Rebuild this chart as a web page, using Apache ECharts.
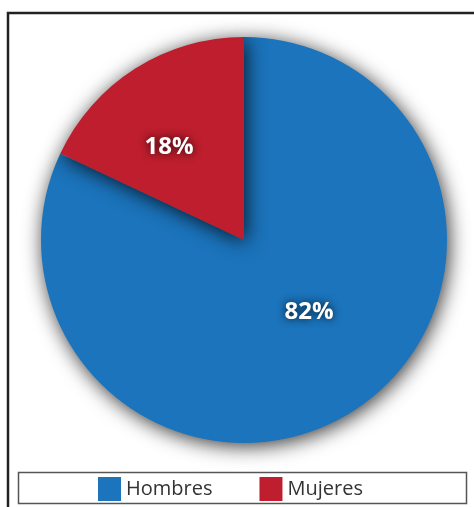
<!DOCTYPE html>
<html>
<head>
<meta charset="utf-8">
<script src="https://cdn.jsdelivr.net/npm/echarts@6/dist/echarts.min.js"></script>
<style>html,body{margin:0;padding:0;background:#fff}#c{width:474px;height:507px}</style>
</head>
<body>
<div id="c"></div>
<script>
const categories = ['Hombres', 'Mujeres'];
const values = [82, 18];
const colors = ['#1b74bc', '#be1e2d'];

const labelOffsets = [[9, -16], [-19, -5]];

const chart = echarts.init(document.getElementById('c'), null, {renderer: 'canvas'});
chart.setOption({
  animation: false,
  color: colors,
  graphic: [
    {type: 'polyline', shape: {points: [[8, 507], [8, 13], [474, 13]]}, style: {stroke: '#222', lineWidth: 2.5, fill: null}},
    {type: 'rect', shape: {x: 18.5, y: 472.5, width: 448, height: 31}, style: {stroke: '#555', lineWidth: 1.5, fill: '#fff'}, z: -1}
  ],
  legend: {
    data: categories,
    left: 98,
    top: 477,
    itemWidth: 23,
    itemHeight: 24,
    itemGap: 47,
    icon: 'rect',
    textStyle: {fontFamily: 'Open Sans', fontSize: 20, color: '#333', padding: [0, 0, 0, 0]},
    padding: 0
  },
  series: [{
    type: 'pie',
    center: [244, 240],
    radius: 203,
    startAngle: 90,
    clockwise: true,
    label: {
      show: true,
      position: 'inside',
      formatter: '{d}%',
      fontFamily: 'Open Sans',
      fontWeight: 'bold',
      fontSize: 24,
      color: '#fff',
      textShadowColor: 'rgba(0,0,0,0.85)',
      textShadowBlur: 9
    },
    labelLine: {show: false},
    itemStyle: {
      shadowBlur: 20,
      shadowColor: 'rgba(0,0,0,0.8)',
      shadowOffsetX: 2,
      shadowOffsetY: 3
    },
    emphasis: {disabled: true},
    data: categories.map((n, i) => ({name: n, value: values[i], label: {offset: labelOffsets[i]}}))
  }]
});
</script>
</body>
</html>
